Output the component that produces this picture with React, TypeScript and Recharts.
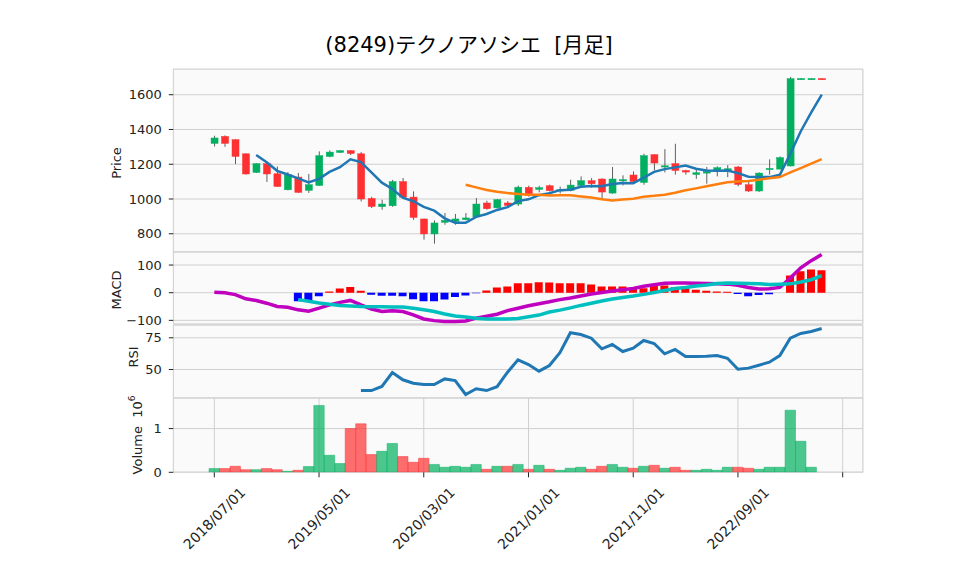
import React from 'react';
import { ComposedChart, Bar, Line, XAxis, YAxis, CartesianGrid, Cell } from 'recharts';

const months = [
  '2018/07/01', '2018/08/01', '2018/09/01', '2018/10/01', '2018/11/01', '2018/12/01',
  '2019/01/01', '2019/02/01', '2019/03/01', '2019/04/01', '2019/05/01', '2019/06/01',
  '2019/07/01', '2019/08/01', '2019/09/01', '2019/10/01', '2019/11/01', '2019/12/01',
  '2020/01/01', '2020/02/01', '2020/03/01', '2020/04/01', '2020/05/01', '2020/06/01',
  '2020/07/01', '2020/08/01', '2020/09/01', '2020/10/01', '2020/11/01', '2020/12/01',
  '2021/01/01', '2021/02/01', '2021/03/01', '2021/04/01', '2021/05/01', '2021/06/01',
  '2021/07/01', '2021/08/01', '2021/09/01', '2021/10/01', '2021/11/01', '2021/12/01',
  '2022/01/01', '2022/02/01', '2022/03/01', '2022/04/01', '2022/05/01', '2022/06/01',
  '2022/07/01', '2022/08/01', '2022/09/01', '2022/10/01', '2022/11/01', '2022/12/01',
  '2023/01/01', '2023/02/01', '2023/03/01', '2023/04/01', '2023/05/01',
];

const opens = [
  1320, 1360, 1341, 1260, 1153, 1203, 1145, 1053, 1126, 1050,
  1078, 1245, 1268, 1278, 1260, 1003, 956, 961, 1100, 1011,
  885, 799, 866, 871, 881, 897, 977, 949, 977, 971,
  1067, 1055, 1076, 1048, 1050, 1078, 1105, 1115, 1034, 1105,
  1138, 1095, 1255, 1184, 1203, 1164, 1141, 1149, 1164, 1158,
  1184, 1082, 1046, 1170, 1172, 1190, 1690, 1690, 1693,
];
const highs = [
  1364, 1366, 1345, 1262, 1205, 1205, 1187, 1155, 1150, 1144,
  1274, 1280, 1280, 1281, 1270, 1013, 996, 1110, 1121, 1044,
  887, 877, 919, 914, 919, 1006, 990, 1000, 988, 1077,
  1077, 1076, 1083, 1071, 1111, 1130, 1120, 1118, 1184, 1136,
  1159, 1260, 1258, 1287, 1318, 1168, 1174, 1184, 1188, 1195,
  1190, 1100, 1153, 1228, 1245, 1702, 1695, 1695, 1695,
];
const lows = [
  1302, 1300, 1201, 1140, 1150, 1098, 1070, 1050, 1035, 1035,
  1075, 1240, 1265, 1253, 986, 948, 938, 955, 1008, 880,
  766, 743, 852, 852, 877, 895, 938, 946, 954, 960,
  1013, 1038, 1044, 1032, 1044, 1073, 1065, 996, 1030, 1078,
  1092, 1082, 1164, 1153, 1140, 1140, 1116, 1088, 1130, 1126,
  1073, 1040, 1040, 1140, 1170, 1188, 1688, 1688, 1688,
];
const closes = [
  1351, 1320, 1245, 1144, 1203, 1144, 1072, 1140, 1038, 1082,
  1249, 1270, 1278, 1262, 1000, 957, 971, 1100, 1011, 894,
  799, 862, 877, 885, 891, 971, 944, 996, 963, 1068,
  1019, 1065, 1048, 1053, 1080, 1105, 1088, 1040, 1115, 1111,
  1100, 1249, 1207, 1191, 1164, 1155, 1151, 1158, 1180, 1174,
  1084, 1046, 1149, 1176, 1238, 1692, 1693, 1693, 1690,
];
// volume in millions of shares
const volumes = [
  0.085, 0.085, 0.137, 0.061, 0.061, 0.085, 0.061, 0.023, 0.046, 0.13,
  1.53, 0.39, 0.2, 1.0, 1.11, 0.405, 0.48, 0.66, 0.36, 0.23,
  0.32, 0.18, 0.115, 0.137, 0.115, 0.18, 0.069, 0.137, 0.137, 0.18,
  0.069, 0.16, 0.069, 0.046, 0.092, 0.115, 0.069, 0.137, 0.18, 0.115,
  0.092, 0.137, 0.16, 0.092, 0.115, 0.046, 0.046, 0.069, 0.046, 0.115,
  0.115, 0.092, 0.069, 0.115, 0.115, 1.42, 0.71, 0.115, 0,
];
// 5-month moving average, from index 4
const ma5 = [
  1253, 1211, 1162, 1141, 1119, 1095, 1116, 1156, 1183, 1228,
  1212, 1153, 1094, 1058, 1008, 987, 955, 933, 889, 863,
  863, 897, 914, 937, 953, 988, 998, 1022, 1033, 1051,
  1053, 1070, 1075, 1073, 1086, 1092, 1091, 1123, 1156, 1172,
  1182, 1193, 1174, 1164, 1162, 1164, 1149, 1128, 1127, 1126,
  1139, 1260, 1390, 1498, 1601,
];
// 25-month moving average, from index 24
const ma25 = [
  1082, 1067, 1052, 1042, 1034, 1029, 1024, 1024, 1020, 1021,
  1021, 1015, 1008, 998, 992, 997, 1002, 1013, 1018, 1025,
  1036, 1050, 1061, 1073, 1085, 1096, 1100, 1104, 1111, 1119,
  1126, 1153, 1178, 1204, 1229,
];
const macdLine = [
  2, 0, -7, -22, -28, -38, -50, -53, -62, -67,
  -56, -44, -35, -28, -44, -59, -68, -65, -68, -80,
  -95, -101, -104, -104, -102, -92, -85, -78, -65, -56,
  -47, -40, -33, -25, -19, -12, -5, 1, 6, 11,
  15, 23, 29, 34, 35, 35, 34, 33, 32, 31,
  27, 19, 13, 14, 19, 53, 90, 116, 138,
];
// signal & histogram, from index 8
const signalLine = [
  -25, -31, -37, -42, -46, -48, -50, -51, -51, -52,
  -52, -56, -62, -68, -77, -84, -88, -92, -95, -95,
  -95, -93, -87, -81, -70, -63, -55, -46, -38, -30,
  -23, -17, -12, -6, 1, 8, 15, 19, 24, 28,
  33, 35, 34, 33, 32, 30, 31, 32, 39, 47, 62,
];
const macdHist = [
  -31, -29, -13, 4, 15, 21, 7, -7, -11, -11,
  -13, -24, -31, -31, -25, -16, -10, -2, 8, 19,
  22, 34, 34, 38, 37, 34, 34, 34, 30, 22,
  22, 22, 18, 16, 25, 26, 20, 16, 11, 7,
  4, 3, -5, -13, -8, -6, 0, 62, 78, 84, 81,
];
// RSI from index 14
const rsi = [
  33.4, 33.4, 36.6, 47.6, 41.9, 39.2, 38.2, 38.2, 42.6, 41.3,
  30.3, 34.8, 33.4, 36.5, 47.9, 57.6, 53.9, 48.7, 53.2, 63.2,
  79.0, 77.6, 74.7, 66.3, 69.7, 64.2, 66.8, 72.9, 70.5, 62.4,
  65.8, 60.3, 60.3, 60.5, 61.0, 58.9, 50.2, 51.1, 53.4, 55.8,
  61.0, 74.7, 78.4, 80.0, 82.3,
];

const xTicks = [0, 10, 20, 30, 40, 50, 60];
const priceTicks = [800, 1000, 1200, 1400, 1600];
const macdTicks = [-100, 0, 100];
const rsiTicks = [50, 75];
const volumeTicks = [0, 1];

const W = 958;
const H = 575;
const LEFT = 173.3;
const RIGHT = 863;
const PAD = 12;
const X_DOMAIN: [number, number] = [-3.915, 61.94];
const FONT = '"DejaVu Sans", "Noto Sans CJK JP", sans-serif';
const UP = '#00b060';
const DOWN = '#fe3032';
const VUP = 'rgba(0,176,96,0.7)';
const VDOWN = 'rgba(254,48,50,0.7)';
const GRID = '#d0d0d0';
const TEXT = '#222';

const from = (arr: number[], start: number, i: number) => (i >= start ? arr[i - start] : null);

const data = months.map((m, i) => ({
  i,
  o: opens[i],
  h: highs[i],
  l: lows[i],
  c: closes[i],
  range: [lows[i], highs[i]],
  vol: volumes[i],
  ma5: from(ma5, 4, i),
  ma25: from(ma25, 24, i),
  macd: macdLine[i],
  signal: from(signalLine, 8, i),
  hist: from(macdHist, 8, i),
  rsi: from(rsi, 14, i),
}));

const Candle = (props: any) => {
  const { x, y, width, height, payload } = props;
  if (x == null || y == null) return null;
  const { o, h, l, c } = payload;
  const yTop = Math.min(y, y + height);
  const yBot = Math.max(y, y + height);
  const span = h - l || 1;
  const py = (v: number) => yTop + ((h - v) / span) * (yBot - yTop);
  const cx = x + width / 2;
  const up = c >= o;
  const color = up ? UP : DOWN;
  const top = py(Math.max(o, c));
  const bot = py(Math.min(o, c));
  return (
    <g>
      <line x1={cx} x2={cx} y1={yTop} y2={yBot} stroke="#606060" strokeWidth={1} />
      <rect x={cx - width / 2} y={top} width={width} height={Math.max(bot - top, 1.2)} fill={color} stroke={color} strokeWidth={0.5} />
    </g>
  );
};

const XTick = (props: any) => {
  const { x, y, payload } = props;
  const label = months[payload.value];
  if (!label) return null;
  const cy = y + 39;
  return (
    <text
      x={x}
      y={cy}
      transform={`rotate(-45 ${x} ${cy})`}
      textAnchor="middle"
      dominantBaseline="central"
      fontSize={14}
      fontFamily={FONT}
      fill={TEXT}
    >
      {label}
    </text>
  );
};

const minus = (v: number) => (v < 0 ? '\u2212' + Math.abs(v) : String(v));

const tickStyle = { fontSize: 13, fill: TEXT, fontFamily: FONT };

type PanelProps = {
  top: number;
  bottom: number;
  extra?: number;
  children: React.ReactNode;
  yDomain: [number, number];
  yTicks: number[];
  fmt?: (v: number) => string;
  showX?: boolean;
};

function Panel({ top, bottom, extra = 0, children, yDomain, yTicks, fmt, showX }: PanelProps) {
  const h = bottom - top;
  const padBottom = showX ? 0 : PAD;
  return (
    <>
      <div
        style={{
          position: 'absolute',
          left: LEFT,
          top,
          width: RIGHT - LEFT,
          height: h,
          background: '#fafafa',
          boxSizing: 'border-box',
          border: '1px solid #e8e8e8',
        }}
      />
      <div style={{ position: 'absolute', left: 0, top: top - PAD, width: W, height: h + extra + PAD + padBottom }}>
        <ComposedChart
          width={W}
          height={h + extra + PAD + padBottom}
          data={data}
          margin={{ top: PAD, right: W - RIGHT, bottom: padBottom, left: 0 }}
          barGap={0}
        >
          <CartesianGrid stroke={GRID} strokeWidth={1} />
          <XAxis
            type="number"
            dataKey="i"
            domain={X_DOMAIN}
            ticks={xTicks}
            interval={0}
            allowDataOverflow
            axisLine={false}
            height={showX ? extra : 0}
            tick={showX ? <XTick /> : false}
            tickLine={showX ? { stroke: TEXT, strokeWidth: 1 } : false}
            tickSize={5}
            tickMargin={2}
          />
          <YAxis
            type="number"
            width={LEFT}
            domain={yDomain}
            ticks={yTicks}
            interval={0}
            allowDataOverflow
            axisLine={false}
            tickLine={{ stroke: TEXT, strokeWidth: 1 }}
            tickSize={4.5}
            tickMargin={7}
            tick={tickStyle}
            tickFormatter={fmt}
          />
          {children}
        </ComposedChart>
      </div>
    </>
  );
}

const labelProps = { textAnchor: 'middle' as const, dominantBaseline: 'central' as const, fontSize: 13, fontFamily: FONT, fill: TEXT };

export default function App() {
  return (
    <div style={{ position: 'absolute', left: 0, top: 0, width: W, height: H, background: '#fff', fontFamily: FONT }}>
      <Panel top={69.3} bottom={252.3} yDomain={[695, 1748]} yTicks={priceTicks}>
        <Bar dataKey="range" barSize={7} shape={<Candle />} isAnimationActive={false} />
        <Line dataKey="ma5" stroke="#1f77b4" strokeWidth={2.5} dot={false} isAnimationActive={false} type="linear" />
        <Line dataKey="ma25" stroke="#ff7f0e" strokeWidth={2.5} dot={false} isAnimationActive={false} type="linear" />
      </Panel>
      <Panel top={252.3} bottom={324.5} yDomain={[-113.9, 147.2]} yTicks={macdTicks} fmt={minus}>
        <Bar dataKey="hist" barSize={8} isAnimationActive={false}>
          {data.map((d, k) => (
            <Cell key={k} fill={d.hist != null && d.hist < 0 ? '#0000ff' : '#ff0000'} />
          ))}
        </Bar>
        <Line dataKey="macd" stroke="#bf00bf" strokeWidth={3.5} dot={false} isAnimationActive={false} />
        <Line dataKey="signal" stroke="#00bfbf" strokeWidth={3.5} dot={false} isAnimationActive={false} />
      </Panel>
      <Panel top={324.5} bottom={397.7} yDomain={[27.4, 85.1]} yTicks={rsiTicks}>
        <Line dataKey="rsi" stroke="#1f77b4" strokeWidth={3} dot={false} isAnimationActive={false} />
      </Panel>
      <Panel top={397.7} bottom={472} extra={103} yDomain={[0, 1.7]} yTicks={volumeTicks} showX>
        <Bar dataKey="vol" barSize={10.4} isAnimationActive={false}>
          {data.map((d, k) => (
            <Cell
              key={k}
              fill={d.c >= d.o ? VUP : VDOWN}
              stroke={d.c >= d.o ? UP : DOWN}
              strokeOpacity={0.6}
              strokeWidth={0.8}
            />
          ))}
        </Bar>
      </Panel>
      <svg width={W} height={H} style={{ position: 'absolute', left: 0, top: 0, pointerEvents: 'none' }}>
        <text x={469} y={45} textAnchor="middle" dominantBaseline="central" fontSize={21} fontFamily={FONT} fill="#000">
          {'(8249)テクノアソシエ\u00a0\u00a0[月足]'}
        </text>
        <text x={116} y={163} transform="rotate(-90 116 163)" {...labelProps}>
          Price
        </text>
        <text x={116} y={290} transform="rotate(-90 116 290)" {...labelProps}>
          MACD
        </text>
        <text x={133} y={357} transform="rotate(-90 133 357)" {...labelProps}>
          RSI
        </text>
        <text x={137} y={435} transform="rotate(-90 137 435)" {...labelProps}>
          {'Volume\u00a0\u00a010'}
          <tspan dy={-5} fontSize={9}>6</tspan>
        </text>
      </svg>
    </div>
  );
}
